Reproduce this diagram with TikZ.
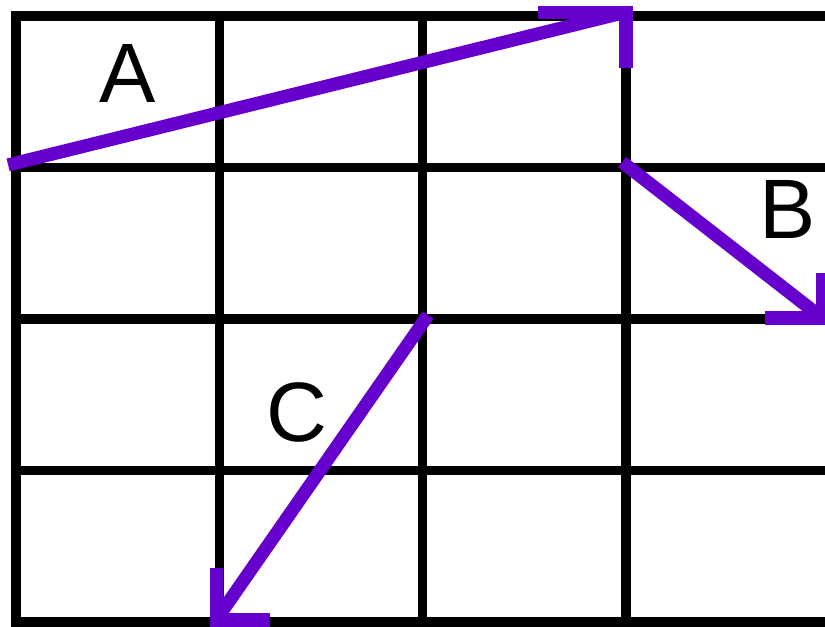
\documentclass[tikz,border=0pt]{standalone}
\usepackage{fontspec}
\usepackage{tikz}
\usetikzlibrary{calc}
\newfontfamily\lblfont{Liberation Sans}
\definecolor{vecpurple}{RGB}{102,0,204}

\begin{document}
\begin{tikzpicture}[x=4.067cm,y=3.03cm,
	gridline/.style={line width=5.5pt,black,line cap=rect},
	vec/.style={line width=7.5pt,vecpurple,line join=miter},
	lbl/.style={font=\lblfont\fontsize{48}{48}\selectfont,inner sep=0pt}]
	\useasboundingbox (-0.079,-0.033) rectangle (3.979,4.106);

	% grid
	\foreach \i in {0,...,3}
		\draw[gridline] (\i,0) -- (\i,4);
	\foreach \j in {0,...,4}
		\draw[gridline] (0,\j) -- (3.979,\j);

	% vector A
	\coordinate (a0) at (-0.039,3.017);
	\coordinate (a1) at (3.0,4.026);
	\draw[vec] (a0) -- (a1);
	\draw[vec] ($(a1)+(-0.432,0)$) -- (a1) -- ++(0,-0.37);
	\node[lbl] (la) at (0.551,3.624) {A};

	% vector B
	\coordinate (b0) at (2.981,3.036);
	\coordinate (b1) at (3.965,2.007);
	\draw[vec] (b0) -- (b1);
	\draw[vec] ($(b1)+(-0.281,0)$) -- (b1) -- ++(0,0.297);
	\node[lbl] (lb) at (3.793,2.72) {B};

	% vector C
	\coordinate (c0) at (2.027,2.026);
	\coordinate (c1) at (0.984,0.013);
	\draw[vec] (c0) -- (c1);
	\draw[vec] ($(c1)+(0,0.343)$) -- (c1) -- ++(0.265,0);
	\node[lbl] (lc) at (1.382,1.386) {C};
\end{tikzpicture}
\end{document}
